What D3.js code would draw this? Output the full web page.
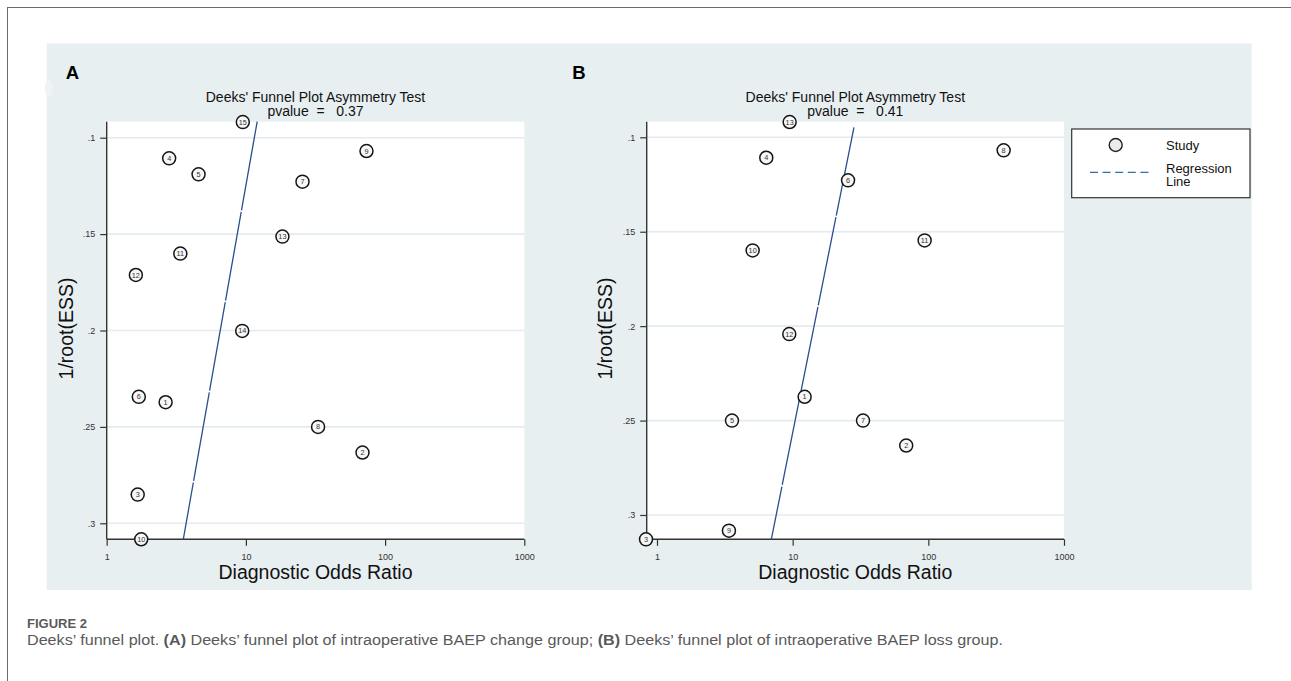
<!DOCTYPE html>
<html>
<head>
<meta charset="utf-8">
<script src="https://cdn.jsdelivr.net/npm/d3@7"></script>
<style>
  html, body { margin: 0; padding: 0; background: #ffffff; }
  svg { display: block; }
  text { font-family: "Liberation Sans", Arial, sans-serif; }
</style>
</head>
<body>
<svg id="chart" width="1291" height="681"></svg>
<script>
// ---------------- DATA ----------------
const xTicks = [1, 10, 100, 1000];
const yTicks = [0.1, 0.15, 0.2, 0.25, 0.3];
const yTickLabels = [".1", ".15", ".2", ".25", ".3"];

// Panel A: intraoperative BAEP change group
const studiesA = [1, 2, 3, 4, 5, 6, 7, 8, 9, 10, 11, 12, 13, 14, 15];
const dorA = [2.65, 68.8, 1.67, 2.81, 4.57, 1.70, 25.5, 33.0, 73.5, 1.77, 3.38, 1.62, 18.3, 9.41, 9.5];
const essA = [0.2372, 0.2633, 0.2851, 0.1107, 0.1190, 0.2344, 0.1228, 0.2500, 0.1069, 0.3083, 0.1601, 0.1712, 0.1513, 0.2002, 0.0919];
const regDorA = [12.05, 3.55];
const regEssA = [0.0917, 0.3083];
const pvalueA = "0.37";

// Panel B: intraoperative BAEP loss group
const studiesB = [1, 2, 3, 4, 5, 6, 7, 8, 9, 10, 11, 12, 13];
const dorB = [12.25, 68.7, 0.83, 6.39, 3.57, 25.6, 33.0, 359, 3.39, 5.07, 93.9, 9.44, 9.5];
const essB = [0.2374, 0.2632, 0.3129, 0.1108, 0.2500, 0.1228, 0.2500, 0.1069, 0.3083, 0.1599, 0.1546, 0.2042, 0.0919];
const regDorB = [28.3, 6.96];
const regEssB = [0.0947, 0.3129];
const pvalueB = "0.41";

const titleText = "Deeks' Funnel Plot Asymmetry Test";
const xTitle = "Diagnostic Odds Ratio";
const yTitle = "1/root(ESS)";
const legendItems = ["Study", "Regression", "Line"];
const captionHead = "FIGURE 2";

// ---------------- LAYOUT ----------------
const svg = d3.select("#chart");

// outer frame
svg.append("rect").attr("x", 7.5).attr("y", 7.5).attr("width", 1400).attr("height", 800)
  .attr("fill", "none").attr("stroke", "#6b6b6b").attr("stroke-width", 1);

// light panel background
svg.append("rect").attr("x", 46.7).attr("y", 43.3).attr("width", 1205).attr("height", 546.7)
  .attr("fill", "#e8eff1");
svg.append("ellipse").attr("cx", 49).attr("cy", 88).attr("rx", 4).attr("ry", 9)
  .attr("fill", "#eef3f5");

const panels = [
  { label: "A", labelX: 65.7, left: 106.7, right: 524.3, top: 121.7, bottom: 539.3,
    x1: 106.7, x1000: 524.3, y01: 137.7, y03: 523.3, cx: 315.5, yTitleX: 72.5,
    studies: studiesA, dor: dorA, ess: essA, regDor: regDorA, regEss: regEssA, p: pvalueA },
  { label: "B", labelX: 572.3, left: 646.7, right: 1064, top: 121.7, bottom: 539.3,
    x1: 657, x1000: 1064, y01: 137.3, y03: 515, cx: 855.3, yTitleX: 612.3,
    studies: studiesB, dor: dorB, ess: essB, regDor: regDorB, regEss: regEssB, p: pvalueB }
];

panels.forEach(P => {
  const g = svg.append("g");
  const x = d3.scaleLog().domain([1, 1000]).range([P.x1, P.x1000]);
  const y = d3.scaleLinear().domain([0.1, 0.3]).range([P.y01, P.y03]);

  // panel letter
  g.append("text").attr("x", P.labelX).attr("y", 79).text(P.label)
    .attr("font-size", 18.5).attr("font-weight", "bold").attr("fill", "#000");

  // title
  g.append("text").attr("x", P.cx).attr("y", 101.8).attr("text-anchor", "middle")
    .attr("font-size", 14).attr("fill", "#111").text(titleText);
  g.append("text").attr("x", P.cx).attr("y", 116).attr("text-anchor", "middle")
    .attr("font-size", 14).attr("fill", "#111").style("white-space", "pre")
    .text("pvalue  =   " + P.p);

  // plot region
  g.append("rect").attr("x", P.left).attr("y", P.top)
    .attr("width", P.right - P.left).attr("height", P.bottom - P.top).attr("fill", "#ffffff");

  // grid lines
  g.selectAll(".grid").data(yTicks).enter().append("line")
    .attr("x1", P.left).attr("x2", P.right)
    .attr("y1", d => y(d)).attr("y2", d => y(d))
    .attr("stroke", "#e2ecf0").attr("stroke-width", 1.6);

  // y axis
  const yAxis = d3.axisLeft(y).tickValues(yTicks)
    .tickFormat((d, i) => yTickLabels[i]).tickSize(6.5).tickPadding(5);
  const ya = g.append("g").attr("transform", `translate(${P.left},0)`).call(yAxis);
  ya.select(".domain").remove();
  ya.selectAll(".tick line").attr("stroke", "#333").attr("stroke-width", 1.2);
  ya.selectAll(".tick text").attr("font-size", 9).attr("fill", "#333")
    .attr("font-family", "Liberation Sans, Arial, sans-serif");
  g.append("line").attr("x1", P.left).attr("x2", P.left).attr("y1", P.top).attr("y2", P.bottom)
    .attr("stroke", "#333").attr("stroke-width", 1.4);

  // x axis
  const xAxis = d3.axisBottom(x).tickValues(xTicks).tickFormat(d3.format("d"))
    .tickSize(6.5).tickPadding(8);
  const xa = g.append("g").attr("transform", `translate(0,${P.bottom})`).call(xAxis);
  xa.select(".domain").remove();
  xa.selectAll(".tick line").attr("stroke", "#333").attr("stroke-width", 1.2);
  xa.selectAll(".tick text").attr("font-size", 9).attr("fill", "#333")
    .attr("font-family", "Liberation Sans, Arial, sans-serif");
  g.append("line").attr("x1", P.left).attr("x2", P.right).attr("y1", P.bottom).attr("y2", P.bottom)
    .attr("stroke", "#333").attr("stroke-width", 1.4);

  // axis titles
  g.append("text").attr("x", P.cx).attr("y", 578.5).attr("text-anchor", "middle")
    .attr("font-size", 19.5).attr("fill", "#111").text(xTitle);
  g.append("text").attr("transform", `translate(${P.yTitleX},328.5) rotate(-90)`)
    .attr("text-anchor", "middle").attr("font-size", 19.5).attr("fill", "#111").text(yTitle);

  // regression line
  const regPts = P.regDor.map((d, i) => [x(d), y(P.regEss[i])]);
  g.append("path").attr("d", d3.line()(regPts))
    .attr("fill", "none").attr("stroke", "#2a4f8e").attr("stroke-width", 1.3)
    .attr("stroke-dasharray", "90,1.6");

  // study markers
  const pts = g.selectAll(".pt").data(P.studies).enter().append("g")
    .attr("transform", (d, i) => `translate(${x(P.dor[i])},${y(P.ess[i])})`);
  pts.append("circle").attr("r", 6.5).attr("fill", "#f7f7f7")
    .attr("stroke", "#151515").attr("stroke-width", 1.5);
  pts.append("text").attr("text-anchor", "middle").attr("dy", "0.35em")
    .attr("font-size", 7.3).attr("fill", "#333").text(d => d);
});

// legend
const lg = svg.append("g");
lg.append("rect").attr("x", 1071.7).attr("y", 129).attr("width", 178.3).attr("height", 68.7)
  .attr("fill", "#ffffff").attr("stroke", "#333").attr("stroke-width", 1.2);
lg.append("circle").attr("cx", 1115.7).attr("cy", 145).attr("r", 6.5)
  .attr("fill", "#ebebeb").attr("stroke", "#222").attr("stroke-width", 1.4);
lg.append("line").attr("x1", 1090).attr("x2", 1153).attr("y1", 172.3).attr("y2", 172.3)
  .attr("stroke", "#2f6cb0").attr("stroke-width", 1.3).attr("stroke-dasharray", "8,4.6");
lg.append("text").attr("x", 1166).attr("y", 149.5).attr("font-size", 13).attr("fill", "#111").text(legendItems[0]);
lg.append("text").attr("x", 1166).attr("y", 172.5).attr("font-size", 13).attr("fill", "#111").text(legendItems[1]);
lg.append("text").attr("x", 1166).attr("y", 185.7).attr("font-size", 13).attr("fill", "#111").text(legendItems[2]);

// caption
svg.append("text").attr("x", 27).attr("y", 628).attr("font-size", 12.5)
  .attr("font-family", "Open Sans, Liberation Sans, Arial, sans-serif").attr("font-weight", 600)
  .attr("fill", "#5a5a5a").attr("textLength", 60).attr("lengthAdjust", "spacingAndGlyphs")
  .text(captionHead);

const cap = svg.append("text").attr("x", 27).attr("y", 645).attr("font-size", 14)
  .attr("font-family", "Open Sans, Lato, sans-serif").attr("font-weight", 300)
  .attr("fill", "#595959").attr("textLength", 976).attr("lengthAdjust", "spacingAndGlyphs");
const capParts = [
  ["Deeks\u2019 funnel plot. ", false],
  ["(A)", true],
  [" Deeks\u2019 funnel plot of intraoperative BAEP change group; ", false],
  ["(B)", true],
  [" Deeks\u2019 funnel plot of intraoperative BAEP loss group.", false]
];
capParts.forEach(([t, b]) => {
  cap.append("tspan").attr("font-weight", b ? 700 : 300).style("white-space", "pre").text(t);
});
</script>
</body>
</html>
